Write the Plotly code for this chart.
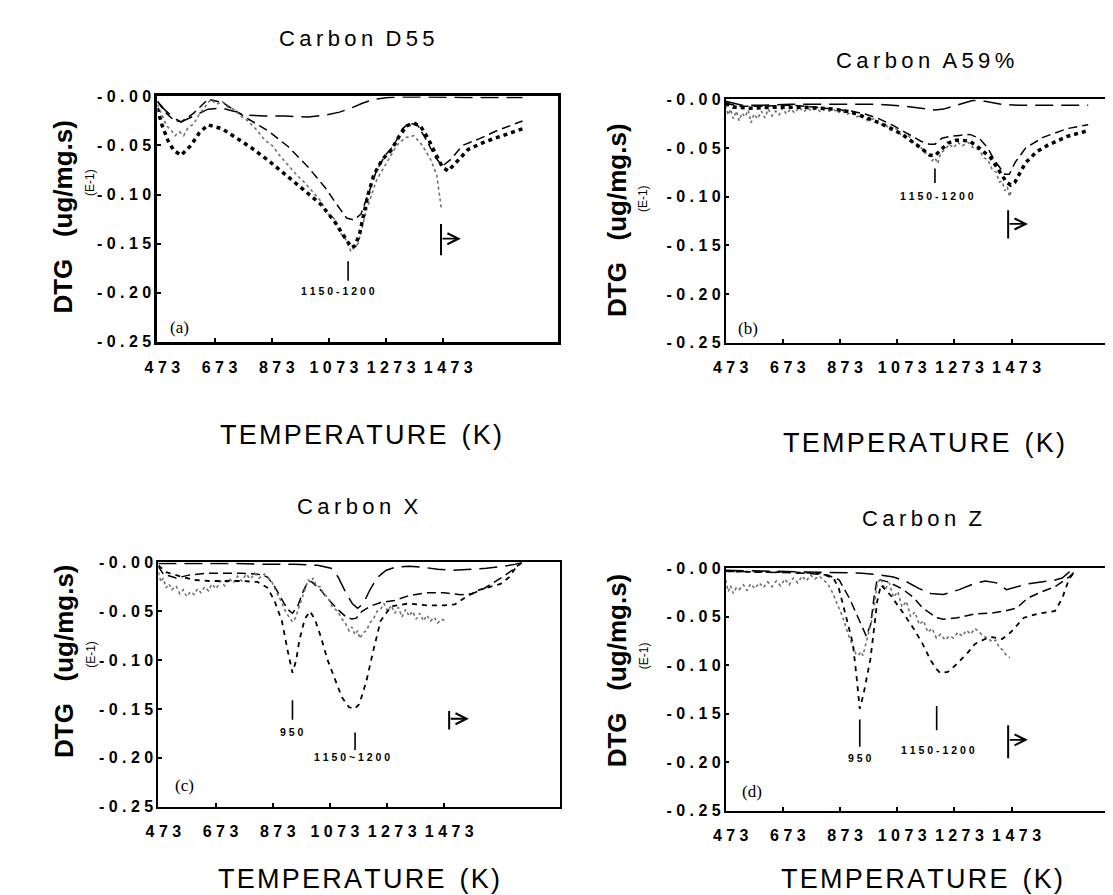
import plotly.graph_objects as go

W, H = 1113, 895

# ---------------- data (temperature K, DTG in E-1 units) ----------------
# Panel (a) Carbon D55
D55_long_T = [473, 500, 530, 556, 600, 650, 700, 740, 780, 850, 920, 1000, 1060, 1110, 1150, 1190, 1230, 1280, 1350, 1450, 1550, 1650, 1750]
D55_long_V = [-0.005, -0.014, -0.022, -0.026, -0.02, -0.013, -0.012, -0.015, -0.019, -0.02, -0.02, -0.021, -0.019, -0.016, -0.012, -0.007, -0.003, -0.001, -0.0005, -0.001, -0.001, -0.001, -0.001]
D55_med_T = [473, 500, 530, 556, 600, 650, 700, 785, 860, 930, 1000, 1060, 1100, 1135, 1160, 1185, 1210, 1240, 1270, 1300, 1330, 1355, 1385, 1415, 1445, 1470, 1500, 1540, 1600, 1660, 1750]
D55_med_V = [-0.005, -0.016, -0.024, -0.026, -0.017, -0.003, -0.006, -0.022, -0.035, -0.051, -0.072, -0.093, -0.11, -0.124, -0.126, -0.12, -0.1, -0.075, -0.06, -0.05, -0.033, -0.027, -0.03, -0.045, -0.062, -0.071, -0.064, -0.05, -0.043, -0.035, -0.025]
D55_heavy_T = [473, 490, 510, 530, 556, 590, 620, 650, 700, 750, 800, 860, 920, 984, 1045, 1094, 1120, 1138, 1152, 1165, 1180, 1195, 1210, 1230, 1260, 1290, 1320, 1345, 1370, 1395, 1420, 1445, 1470, 1490, 1520, 1560, 1620, 1690, 1750]
D55_heavy_V = [-0.012, -0.03, -0.045, -0.055, -0.06, -0.05, -0.037, -0.029, -0.033, -0.042, -0.052, -0.065, -0.08, -0.095, -0.11, -0.128, -0.14, -0.148, -0.154, -0.152, -0.14, -0.12, -0.1, -0.08, -0.064, -0.055, -0.04, -0.03, -0.027, -0.031, -0.043, -0.058, -0.072, -0.076, -0.067, -0.054, -0.046, -0.039, -0.033]
D55_gray_T = [473, 490, 505, 520, 535, 550, 565, 580, 600, 620, 640, 660, 680, 700, 720, 740, 765, 790, 820, 850, 875, 900, 930, 960, 985, 1010, 1040, 1070, 1090, 1110, 1130, 1150, 1175, 1205, 1240, 1280, 1310, 1340, 1370, 1400, 1430, 1450, 1460, 1467]
D55_gray_V = [-0.008, -0.02, -0.03, -0.034, -0.04, -0.036, -0.04, -0.032, -0.028, -0.018, -0.01, -0.003, -0.008, -0.005, -0.011, -0.013, -0.02, -0.025, -0.034, -0.045, -0.05, -0.06, -0.07, -0.08, -0.087, -0.095, -0.105, -0.12, -0.124, -0.138, -0.145, -0.158, -0.15, -0.115, -0.085, -0.065, -0.05, -0.042, -0.04, -0.05, -0.065, -0.08, -0.1, -0.116]

# Panel (b) Carbon A59%
A59_long_T = [473, 530, 600, 700, 800, 900, 1010, 1100, 1160, 1205, 1235, 1280, 1339, 1380, 1436, 1500, 1600, 1741]
A59_long_V = [-0.002, -0.006, -0.006, -0.005, -0.005, -0.005, -0.005, -0.007, -0.009, -0.011, -0.01, -0.006, -0.001, -0.002, -0.005, -0.006, -0.006, -0.006]
A59_med_T = [473, 520, 600, 700, 790, 850, 912, 960, 1010, 1060, 1095, 1130, 1156, 1185, 1205, 1229, 1260, 1290, 1327, 1360, 1390, 1412, 1436, 1449, 1465, 1485, 1522, 1583, 1668, 1741]
A59_med_V = [-0.004, -0.007, -0.007, -0.006, -0.008, -0.01, -0.012, -0.015, -0.02, -0.027, -0.033, -0.039, -0.043, -0.046, -0.046, -0.04, -0.038, -0.037, -0.036, -0.04, -0.05, -0.062, -0.072, -0.077, -0.077, -0.065, -0.05, -0.039, -0.03, -0.026]
A59_heavy_T = [473, 500, 560, 650, 750, 850, 912, 960, 1010, 1060, 1100, 1156, 1185, 1205, 1225, 1250, 1278, 1300, 1327, 1360, 1400, 1436, 1455, 1470, 1485, 1505, 1522, 1560, 1600, 1668, 1741]
A59_heavy_V = [-0.004, -0.008, -0.009, -0.008, -0.008, -0.01, -0.013, -0.018, -0.024, -0.031, -0.038, -0.05, -0.057, -0.058, -0.052, -0.045, -0.042, -0.042, -0.043, -0.05, -0.06, -0.076, -0.085, -0.088, -0.085, -0.074, -0.065, -0.054, -0.047, -0.038, -0.032]
A59_gray_T = [473, 482, 490, 500, 510, 520, 530, 540, 552, 562, 572, 585, 598, 610, 622, 635, 648, 660, 672, 685, 700, 715, 730, 745, 760, 775, 790, 805, 820, 835, 850, 865, 880, 895, 912, 930, 950, 970, 990, 1010, 1030, 1050, 1070, 1090, 1110, 1130, 1150, 1170, 1185, 1195, 1205, 1215, 1225, 1240, 1255, 1270, 1285, 1300, 1320, 1340, 1360, 1375, 1390, 1405, 1420, 1430, 1440, 1450, 1458, 1466, 1472]
A59_gray_V = [-0.006, -0.016, -0.01, -0.02, -0.012, -0.022, -0.014, -0.018, -0.011, -0.024, -0.015, -0.02, -0.012, -0.019, -0.01, -0.017, -0.012, -0.016, -0.009, -0.015, -0.01, -0.014, -0.008, -0.013, -0.009, -0.012, -0.009, -0.013, -0.01, -0.012, -0.01, -0.014, -0.011, -0.016, -0.013, -0.018, -0.016, -0.022, -0.02, -0.026, -0.025, -0.032, -0.03, -0.038, -0.036, -0.045, -0.047, -0.055, -0.056, -0.063, -0.06, -0.066, -0.055, -0.052, -0.046, -0.05, -0.044, -0.048, -0.044, -0.05, -0.052, -0.06, -0.062, -0.072, -0.075, -0.085, -0.084, -0.094, -0.09, -0.1, -0.093]

# Panel (c) Carbon X
X_long_T = [473, 550, 650, 750, 850, 950, 1030, 1077, 1102, 1127, 1151, 1170, 1190, 1213, 1240, 1270, 1300, 1350, 1400, 1450, 1500, 1560, 1620, 1680, 1720, 1744]
X_long_V = [-0.001, -0.001, -0.001, -0.001, -0.002, -0.002, -0.003, -0.006, -0.015, -0.03, -0.042, -0.047, -0.042, -0.028, -0.015, -0.008, -0.005, -0.004, -0.005, -0.007, -0.008, -0.007, -0.006, -0.004, -0.002, 0.0]
X_med_T = [473, 490, 535, 580, 640, 700, 760, 820, 855, 880, 905, 925, 942, 960, 979, 997, 1010, 1040, 1065, 1100, 1130, 1150, 1165, 1185, 1213, 1250, 1299, 1349, 1410, 1472, 1530, 1571, 1610, 1645, 1682, 1719, 1744]
X_med_V = [-0.004, -0.012, -0.016, -0.013, -0.011, -0.011, -0.011, -0.012, -0.015, -0.025, -0.038, -0.048, -0.052, -0.045, -0.03, -0.019, -0.02, -0.028, -0.037, -0.048, -0.056, -0.058, -0.057, -0.05, -0.045, -0.041, -0.039, -0.034, -0.031, -0.031, -0.033, -0.032, -0.027, -0.021, -0.014, -0.006, 0.0]
X_short_T = [473, 500, 547, 600, 650, 700, 760, 820, 855, 880, 905, 925, 942, 955, 966, 985, 1003, 1020, 1040, 1065, 1090, 1115, 1139, 1158, 1176, 1201, 1225, 1250, 1287, 1349, 1410, 1472, 1510, 1550, 1596, 1633, 1670, 1700, 1719, 1744]
X_short_V = [-0.003, -0.01, -0.014, -0.018, -0.019, -0.019, -0.019, -0.02, -0.026, -0.04, -0.06, -0.09, -0.113, -0.1, -0.08, -0.058, -0.05, -0.058, -0.075, -0.1, -0.12, -0.138, -0.148, -0.15, -0.145, -0.121, -0.09, -0.06, -0.045, -0.042, -0.044, -0.044, -0.043, -0.035, -0.028, -0.025, -0.022, -0.015, -0.007, 0.0]
X_gray_T = [473, 482, 490, 500, 510, 520, 535, 548, 560, 572, 585, 598, 610, 622, 635, 648, 660, 675, 690, 705, 720, 735, 750, 765, 780, 795, 810, 825, 843, 858, 870, 882, 895, 906, 917, 930, 942, 952, 960, 970, 979, 988, 997, 1005, 1015, 1025, 1040, 1052, 1065, 1080, 1100, 1115, 1127, 1140, 1150, 1160, 1170, 1178, 1188, 1201, 1212, 1225, 1238, 1250, 1262, 1275, 1287, 1300, 1312, 1325, 1338, 1350, 1362, 1375, 1388, 1400, 1412, 1425, 1438, 1450, 1462, 1478]
X_gray_V = [-0.01, -0.02, -0.016, -0.026, -0.022, -0.028, -0.024, -0.032, -0.028, -0.035, -0.03, -0.033, -0.027, -0.031, -0.025, -0.029, -0.022, -0.027, -0.019, -0.024, -0.016, -0.021, -0.014, -0.019, -0.012, -0.017, -0.011, -0.016, -0.012, -0.017, -0.02, -0.028, -0.035, -0.042, -0.05, -0.056, -0.061, -0.057, -0.05, -0.042, -0.033, -0.026, -0.018, -0.02, -0.016, -0.024, -0.025, -0.033, -0.035, -0.045, -0.05, -0.058, -0.062, -0.07, -0.066, -0.074, -0.07, -0.078, -0.072, -0.07, -0.062, -0.058, -0.05, -0.048, -0.042, -0.05, -0.044, -0.052, -0.046, -0.056, -0.048, -0.055, -0.05, -0.058, -0.052, -0.06, -0.054, -0.06, -0.056, -0.062, -0.058, -0.06]

# Panel (d) Carbon Z
Z_long_T = [473, 600, 800, 950, 1016, 1060, 1100, 1150, 1190, 1235, 1290, 1340, 1381, 1420, 1455, 1490, 1530, 1600, 1625, 1650, 1674, 1698]
Z_long_V = [-0.002, -0.003, -0.004, -0.005, -0.007, -0.009, -0.013, -0.021, -0.026, -0.027, -0.022, -0.016, -0.013, -0.015, -0.022, -0.019, -0.016, -0.013, -0.012, -0.01, -0.004, 0.0]
Z_med_T = [473, 600, 750, 830, 870, 906, 942, 965, 980, 992, 1003, 1040, 1089, 1130, 1162, 1211, 1235, 1284, 1345, 1406, 1450, 1491, 1528, 1580, 1625, 1674, 1698]
Z_med_V = [-0.003, -0.004, -0.005, -0.007, -0.012, -0.031, -0.054, -0.07, -0.058, -0.03, -0.011, -0.014, -0.021, -0.03, -0.041, -0.051, -0.0525, -0.051, -0.047, -0.046, -0.044, -0.041, -0.031, -0.024, -0.019, -0.009, -0.002]
Z_short_T = [473, 600, 700, 800, 850, 869, 890, 918, 932, 942, 955, 979, 995, 1003, 1016, 1050, 1089, 1130, 1162, 1190, 1211, 1223, 1250, 1284, 1320, 1345, 1380, 1406, 1440, 1470, 1516, 1564, 1625, 1650, 1674, 1698]
Z_short_V = [-0.003, -0.004, -0.004, -0.005, -0.01, -0.021, -0.045, -0.078, -0.115, -0.145, -0.13, -0.094, -0.055, -0.034, -0.017, -0.028, -0.044, -0.062, -0.078, -0.095, -0.104, -0.108, -0.107, -0.098, -0.087, -0.078, -0.073, -0.071, -0.073, -0.066, -0.051, -0.047, -0.044, -0.031, -0.011, -0.002]
Z_gray_T = [473, 482, 490, 500, 510, 520, 535, 548, 560, 575, 590, 605, 620, 635, 650, 665, 680, 695, 710, 725, 740, 755, 770, 785, 800, 815, 830, 845, 857, 870, 882, 895, 906, 918, 928, 937, 945, 953, 962, 972, 982, 992, 1003, 1015, 1030, 1045, 1060, 1075, 1090, 1105, 1120, 1135, 1150, 1165, 1180, 1195, 1210, 1225, 1240, 1255, 1270, 1285, 1300, 1315, 1330, 1345, 1360, 1375, 1390, 1405, 1418, 1430, 1442, 1455, 1467]
Z_gray_V = [-0.012, -0.024, -0.018, -0.026, -0.02, -0.022, -0.017, -0.023, -0.016, -0.021, -0.015, -0.02, -0.014, -0.019, -0.013, -0.018, -0.011, -0.017, -0.01, -0.015, -0.008, -0.013, -0.007, -0.011, -0.008, -0.012, -0.016, -0.024, -0.032, -0.042, -0.05, -0.062, -0.072, -0.08, -0.088, -0.09, -0.086, -0.09, -0.08, -0.07, -0.056, -0.04, -0.016, -0.01, -0.022, -0.015, -0.03, -0.024, -0.04, -0.034, -0.05, -0.045, -0.058, -0.054, -0.066, -0.062, -0.072, -0.068, -0.074, -0.07, -0.072, -0.066, -0.07, -0.064, -0.068, -0.062, -0.066, -0.07, -0.072, -0.076, -0.074, -0.082, -0.084, -0.09, -0.092]

# axis ticks
xtick_vals = [473, 673, 873, 1073, 1273, 1473]
xtick_labels = ["473", "673", "873", "1073", "1273", "1473"]
ytick_vals = [0.0, -0.05, -0.10, -0.15, -0.20, -0.25]
ytick_labels = ["-0.00", "-0.05", "-0.10", "-0.15", "-0.20", "-0.25"]

titles = ["Carbon D55", "Carbon A59%", "Carbon X", "Carbon Z"]
panel_tags = ["(a)", "(b)", "(c)", "(d)"]

# peak markers (temperature, label) and the isothermal arrow temperature per panel
mark_T = {"a": [1140], "b": [1205], "c": [942, 1161], "d": [942, 1211]}
mark_text = {"a": ["1150-1200"], "b": ["1150-1200"], "c": ["950", "1150~1200"], "d": ["950", "1150-1200"]}
arrow_T = {"a": 1465, "b": 1461, "c": 1490, "d": 1461}

# ---------------- helpers ----------------
SANS = "Liberation Sans, Arial, Helvetica, sans-serif"
SERIF = "Liberation Serif, Times New Roman, serif"
THIN = "\u2009"
HAIR = "\u200a"


def spaced(s, sep=" "):
    words = s.split(" ")
    return "\u00a0\u00a0".join(sep.join(list(w)) for w in words)


def xdom(p0, p1):
    return [p0 / W, min(p1 / W, 1.0)]


def ydom(top, bot):
    return [1 - bot / H, 1 - top / H]


def px(x):
    return x / W


def py(y):
    return 1 - y / H


STY = {
    "long": dict(color="black", width=1.5, dash="18px,8px"),
    "med": dict(color="black", width=1.5, dash="9px,5px"),
    "heavy": dict(color="black", width=3.5, dash="4px,4px"),
    "short": dict(color="black", width=1.8, dash="5px,5px"),
    "gray": dict(color="#707070", width=1.6, dash="dot"),
}

fig = go.Figure()

panels = [
    # key, axis suffix, box px (left, right, top, bottom), line width, right border
    ("a", "", (138, 543, 82, 332), 3, True),
    ("b", "2", (713, 1113, 85, 333), 1.6, False),
    ("c", "3", (139, 545, 557, 806), 2, True),
    ("d", "4", (713, 1113, 563, 810), 1.6, False),
]

series = {
    "a": [(D55_long_T, D55_long_V, "long"), (D55_med_T, D55_med_V, "med"),
          (D55_gray_T, D55_gray_V, "gray"), (D55_heavy_T, D55_heavy_V, "heavy")],
    "b": [(A59_long_T, A59_long_V, "long"), (A59_med_T, A59_med_V, "med"),
          (A59_gray_T, A59_gray_V, "gray"), (A59_heavy_T, A59_heavy_V, "heavy")],
    "c": [(X_long_T, X_long_V, "long"), (X_med_T, X_med_V, "med"),
          (X_gray_T, X_gray_V, "gray"), (X_short_T, X_short_V, "short")],
    "d": [(Z_long_T, Z_long_V, "long"), (Z_med_T, Z_med_V, "med"),
          (Z_gray_T, Z_gray_V, "gray"), (Z_short_T, Z_short_V, "short")],
}

K_PER_PX = 1400 / 405.0
layout = {}
annotations = []
shapes = []

# per-panel placement of marker pieces (in data units of DTG)
mark_geo = {
    "a": [(-0.168, -0.188, -0.198, -37)],
    "b": [(-0.071, -0.086, -0.099, 8)],
    "c": [(-0.141, -0.161, -0.174, 0), (-0.174, -0.192, -0.199, -10)],
    "d": [(-0.156, -0.184, -0.196, 0), (-0.142, -0.167, -0.187, 6)],
}
arrow_geo = {"a": (-0.130, -0.162, -0.145), "b": (-0.114, -0.143, -0.128),
             "c": (-0.152, -0.171, -0.160), "d": (-0.162, -0.196, -0.177)}
tag_geo = {"a": (552, -0.236), "b": (552, -0.235), "c": (566, -0.228), "d": (566, -0.230)}

title_pos = {"a": (340, 23), "b": (915, 45), "c": (340, 500), "d": (912, 512)}
xtitle_pos = {"a": (344, 427), "b": (914, 435), "c": (342, 880), "d": (912, 880)}
ytitle_pos = {"a": (43, 204), "b": (603, 208), "c": (43, 657), "d": (603, 667)}
e1_pos = {"a": (70, 170), "b": (630, 186), "c": (70, 651), "d": (630, 652)}

for idx, (key, suf, (l, r, t, b), lw, rborder) in enumerate(panels):
    xa = "x" + suf
    ya = "y" + suf
    xmax = 473 + (r - l) * K_PER_PX
    layout["xaxis" + suf] = dict(
        domain=xdom(l, r), range=[473, xmax], anchor=ya,
        showgrid=False, zeroline=False, showline=True, linecolor="black",
        linewidth=lw, mirror=True, ticks="inside", ticklen=4, tickwidth=2,
        tickcolor="black", tickvals=xtick_vals,
        ticktext=[spaced(s) for s in xtick_labels],
        tickfont=dict(family=SANS, size=16, color="black", weight="bold"),
        ticklabelstandoff=9, ticklabelshift=5, fixedrange=True,
    )
    layout["yaxis" + suf] = dict(
        domain=ydom(t, b), range=[-0.25, 0.0], anchor=xa,
        showgrid=False, zeroline=False, showline=True, linecolor="black",
        linewidth=lw, mirror=rborder, ticks="inside", ticklen=4, tickwidth=2,
        tickcolor="black", tickvals=ytick_vals,
        ticktext=[spaced(s) for s in ytick_labels],
        tickfont=dict(family=SANS, size=16, color="black", weight="bold"),
        fixedrange=True,
    )
    for T, V, sty in series[key]:
        fig.add_trace(go.Scatter(x=T, y=V, mode="lines", line=STY[sty],
                                 xaxis=xa, yaxis=ya, showlegend=False,
                                 hoverinfo="skip"))

    # peak markers
    for (tt, txt, (y0, y1, ytxt, dtx)) in zip(mark_T[key], mark_text[key], mark_geo[key]):
        shapes.append(dict(type="line", xref=xa, yref=ya, x0=tt, x1=tt, y0=y0, y1=y1,
                           line=dict(color="black", width=1.6)))
        annotations.append(dict(xref=xa, yref=ya, x=tt + dtx, y=ytxt, text=spaced(txt),
                                showarrow=False, xanchor="center", yanchor="middle",
                                font=dict(family=SANS, size=10.5, color="black", weight="bold")))
    # isothermal arrow
    ab0, ab1, ah = arrow_geo[key]
    at = arrow_T[key]
    shapes.append(dict(type="line", xref=xa, yref=ya, x0=at, x1=at, y0=ab0, y1=ab1,
                       line=dict(color="black", width=2)))
    annotations.append(dict(xref=xa, yref=ya, axref=xa, ayref=ya, x=at + 20 * K_PER_PX, y=ah,
                            ax=at, ay=ah, text="", showarrow=True, arrowhead=5,
                            arrowsize=1.2, arrowwidth=1.8, arrowcolor="black"))
    # panel tag
    tx, tv = tag_geo[key]
    annotations.append(dict(xref=xa, yref=ya, x=tx, y=tv, text=panel_tags[idx], showarrow=False,
                            xanchor="center", yanchor="middle",
                            font=dict(family=SERIF, size=17, color="black")))
    # texts
    x0, y0 = title_pos[key]
    annotations.append(dict(xref="paper", yref="paper", x=px(x0), y=py(y0),
                            text=spaced(titles[idx], THIN), showarrow=False,
                            xanchor="center", yanchor="middle",
                            font=dict(family=SANS, size=22, color="black")))
    x0, y0 = xtitle_pos[key]
    annotations.append(dict(xref="paper", yref="paper", x=px(x0), y=py(y0),
                            text=spaced("TEMPERATURE (K)", HAIR), showarrow=False,
                            xanchor="center", yanchor="middle",
                            font=dict(family=SANS, size=27, color="black")))
    x0, y0 = ytitle_pos[key]
    annotations.append(dict(xref="paper", yref="paper", x=px(x0), y=py(y0),
                            text="DTG\u00a0\u00a0\u00a0(ug/mg.s)", showarrow=False, textangle=-90,
                            xanchor="center", yanchor="middle",
                            font=dict(family=SANS, size=26, color="black", weight="bold")))
    x0, y0 = e1_pos[key]
    annotations.append(dict(xref="paper", yref="paper", x=px(x0), y=py(y0),
                            text="(E-1)", showarrow=False, textangle=-90,
                            xanchor="center", yanchor="middle",
                            font=dict(family=SANS, size=12, color="black")))

fig.update_layout(
    width=W, height=H, margin=dict(l=0, r=0, t=0, b=0),
    paper_bgcolor="white", plot_bgcolor="white",
    showlegend=False, annotations=annotations, shapes=shapes,
    **layout,
)

fig.write_html("out.html", config={"displayModeBar": False})
